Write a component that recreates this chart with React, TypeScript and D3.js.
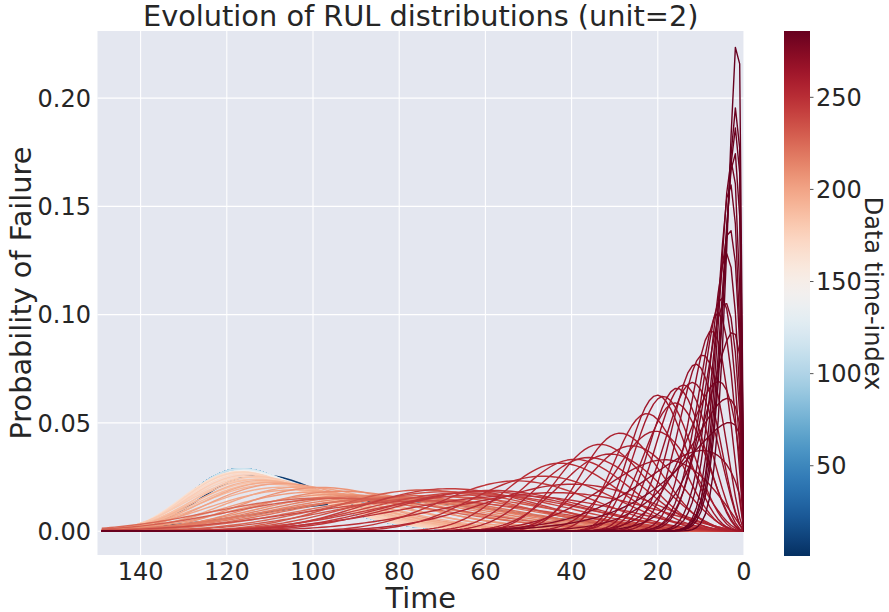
import React from "react";
import * as d3 from "d3";

const W = 889;
const H = 612;
const plot = { left: 97.5, right: 744, top: 31, bottom: 555 };
const cbar = { left: 784, right: 810, top: 31, bottom: 556 };

const title = "Evolution of RUL distributions (unit=2)";
const xTicks = [140, 120, 100, 80, 60, 40, 20, 0];
const yTicks = [0, 0.05, 0.1, 0.15, 0.2];
const cbTicks = [50, 100, 150, 200, 250];
const xLimits = [150, 0];
const yLimits = [-0.011, 0.231];
const indexLimits = [1, 286];

// time-index of each plotted RUL distribution
const timeIndex = [
  1, 7, 13, 19, 25, 31, 37, 43, 49, 55, 61, 67, 73, 79, 85, 91, 97, 103, 109, 115,
  121, 127, 133, 139, 145,
  166, 168, 170, 172, 174, 176, 178, 180, 182, 184, 186, 188, 190, 192, 194, 196, 198,
  199, 201, 203, 205, 207, 209, 211, 213, 215, 217, 219, 221, 223, 225, 227, 229,
  231, 233, 235, 237, 239, 241, 243, 245,
  246, 247, 248, 249, 250, 251, 252, 253, 254, 255, 256, 257, 258, 259, 260,
  261, 262, 263, 264, 265, 266, 267, 268, 269, 270, 271, 272, 273, 274, 275, 276,
  277, 278, 279, 280, 281, 282, 283, 284, 285, 286,
];

// Weibull scale of each distribution (estimated from peak position / height)
const alpha = [
  92, 114, 118, 118, 118, 118, 118, 118, 118, 118, 118, 118, 118, 118, 118, 118, 118, 118, 118, 118,
  117.5, 117, 117.5, 117, 118,
  118.5, 118, 117.5, 117, 118, 116.5, 117, 116, 115, 114, 115, 113, 112, 114, 110, 112, 108,
  106, 110, 104, 100, 102, 96, 98, 92, 94, 90, 92, 88, 85, 104, 82, 100, 80,
  78, 76, 84, 72, 70, 74, 68,
  66, 58, 64, 51.7, 55, 46.2, 42.7, 48, 39.6, 36.2, 34.9, 31.3, 29.8, 24.8, 24,
  20.8, 26, 18.7, 22, 16.4, 17.8, 14.7, 13.5, 12, 20, 9.89, 11, 12, 8.5, 7.7, 15,
  7.4, 8, 6.28, 5.6, 5.02, 4.62, 4.3, 4.0, 3.8, 3.25,
];

// Weibull shape of each distribution
const beta = [
  3.3, 8, 9.2, 9.2, 9.2, 9.2, 9.2, 9.2, 9.2, 9.2, 9.2, 9.2, 9.2, 9.2, 9.2, 9.2, 9.2, 9.2, 9.2, 9.2,
  9.0, 8.9, 8.8, 8.7, 8.9,
  8.8, 8.6, 8.4, 8.0, 8.7, 7.8, 8.2, 7.5, 7.8, 7.0, 7.4, 6.8, 6.5, 7.2, 6.0, 6.8, 5.5,
  5.8, 6.5, 5.0, 4.5, 5.5, 4.2, 4.8, 3.8, 4.0, 3.6, 3.5, 3.6, 3.4, 4.2, 3.5, 4.0, 4.0,
  3.2, 3.6, 3.0, 3.3, 3.0, 3.8, 3.2,
  3.2, 3.5, 2.6, 3.4, 2.4, 3.8, 3.7, 2.6, 3.5, 3.8, 3.2, 3.7, 3.0, 3.5, 2.8,
  3.35, 2.0, 2.8, 3.6, 2.8, 3.0, 2.5, 2.6, 2.4, 1.5, 2.2, 1.6, 1.3, 2.0, 1.9, 1.2,
  1.7, 1.3, 1.8, 1.7, 1.8, 1.75, 1.55, 1.5, 1.5, 1.5,
];

const timeGrid = d3.range(0, 150);

function weibullPdf(t: number, a: number, b: number) {
  if (t <= 0) return 0;
  const z = t / a;
  return (b / a) * Math.pow(z, b - 1) * Math.exp(-Math.pow(z, b));
}

const font = "'DejaVu Sans', 'Liberation Sans', sans-serif";
const ink = "#262626";

export default function App() {
  const x = d3.scaleLinear().domain(xLimits).range([plot.left, plot.right]);
  const y = d3.scaleLinear().domain(yLimits).range([plot.bottom, plot.top]);
  const cb = d3.scaleLinear().domain(indexLimits).range([cbar.bottom, cbar.top]);
  const colorOf = (i: number) =>
    d3.interpolateRdBu(1 - (i - indexLimits[0]) / (indexLimits[1] - indexLimits[0]));

  const curves = timeIndex.map((idx, k) => {
    const line = d3
      .line<number>()
      .x((t) => x(t))
      .y((t) => y(weibullPdf(t, alpha[k], beta[k])));
    return { idx, d: line(timeGrid) || "" };
  });

  const stops = d3.range(0, 41).map((k) => k / 40);

  return (
    <svg
      width={W}
      height={H}
      style={{ position: "absolute", left: 0, top: 0, background: "#fff" }}
      fontFamily={font}
    >
      <defs>
        <clipPath id="plotclip">
          <rect x={plot.left} y={plot.top} width={plot.right - plot.left} height={plot.bottom - plot.top} />
        </clipPath>
        <linearGradient id="cbgrad" x1="0" y1="1" x2="0" y2="0">
          {stops.map((s) => (
            <stop key={s} offset={s} stopColor={d3.interpolateRdBu(1 - s)} />
          ))}
        </linearGradient>
      </defs>

      <rect
        x={plot.left}
        y={plot.top}
        width={plot.right - plot.left}
        height={plot.bottom - plot.top}
        fill="#E4E7F0"
      />
      {xTicks.map((t) => (
        <line key={"gx" + t} x1={x(t)} x2={x(t)} y1={plot.top} y2={plot.bottom} stroke="#fff" strokeWidth={1.1} />
      ))}
      {yTicks.map((t) => (
        <line key={"gy" + t} x1={plot.left} x2={plot.right} y1={y(t)} y2={y(t)} stroke="#fff" strokeWidth={1.1} />
      ))}

      <g clipPath="url(#plotclip)" fill="none" strokeWidth={1.4} strokeLinejoin="round">
        {curves.map((c, k) => (
          <path key={k} d={c.d} stroke={colorOf(c.idx)} />
        ))}
      </g>

      {xTicks.map((t) => (
        <text key={"tx" + t} x={x(t)} y={580} fontSize={24} fill={ink} textAnchor="middle">
          {t}
        </text>
      ))}
      {yTicks.map((t) => (
        <text key={"ty" + t} x={91} y={y(t) + 8.7} fontSize={24} fill={ink} textAnchor="end">
          {d3.format(".2f")(t)}
        </text>
      ))}

      <text x={(plot.left + plot.right) / 2} y={26} fontSize={28.8} fill={ink} textAnchor="middle">
        {title}
      </text>
      <text x={(plot.left + plot.right) / 2} y={608} fontSize={28.8} fill={ink} textAnchor="middle">
        Time
      </text>
      <text
        transform={`translate(31, ${(plot.top + plot.bottom) / 2}) rotate(-90)`}
        fontSize={28.8}
        fill={ink}
        textAnchor="middle"
      >
        Probability of Failure
      </text>

      <rect
        x={cbar.left}
        y={cbar.top}
        width={cbar.right - cbar.left}
        height={cbar.bottom - cbar.top}
        fill="url(#cbgrad)"
      />
      {cbTicks.map((t) => (
        <g key={"cb" + t}>
          <line x1={cbar.right} x2={cbar.right + 3.5} y1={cb(t)} y2={cb(t)} stroke="#555" strokeWidth={1} />
          <text x={816} y={cb(t) + 8.7} fontSize={24} fill={ink}>
            {t}
          </text>
        </g>
      ))}
      <text
        transform={`translate(865, ${(cbar.top + cbar.bottom) / 2}) rotate(90)`}
        fontSize={24}
        fill={ink}
        textAnchor="middle"
      >
        Data time-index
      </text>
    </svg>
  );
}
